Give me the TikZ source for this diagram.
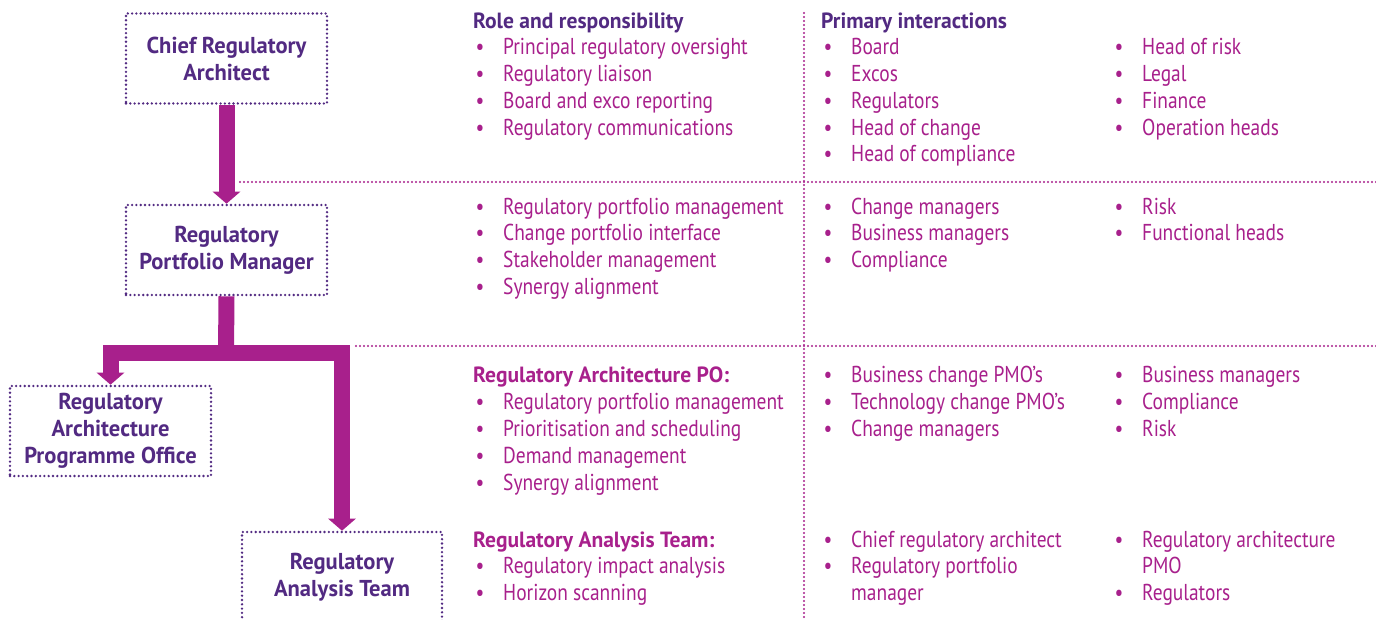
\documentclass[tikz,border=0pt]{standalone}
\usepackage{fontspec}
\setmainfont{PT Sans}[FakeStretch=0.845]
\newfontfamily\boldfam{PT Sans}[FakeStretch=0.98]
\usetikzlibrary{arrows.meta}
\definecolor{dpurple}{RGB}{82,42,130}
\definecolor{mag}{RGB}{168,32,140}
\begin{document}
\begin{tikzpicture}[x=1pt,y=-1pt,
  box/.style={draw=dpurple, line width=2.6pt, dash pattern=on 0pt off 4.3pt, line cap=round,
    minimum width=201pt, minimum height=90pt, inner sep=0pt, align=center, text=dpurple,
    font=\boldfam\bfseries\fontsize{23}{27}\selectfont},
  divider/.style={draw=mag, line width=2.3pt, dash pattern=on 0pt off 4pt, line cap=round},
  fat/.style={draw=mag, line width=16pt, line join=miter},
  fatarrow/.style={fat, -{Triangle[width=27pt,length=12pt]}},
  head/.style={anchor=base west, text=dpurple, inner sep=0pt, font=\boldfam\bfseries\fontsize{22}{26}\selectfont},
  headm/.style={head, text=mag},
  itm/.style={anchor=base west, text=mag, inner sep=0pt, font=\fontsize{23}{26}\selectfont},
  bul/.style={anchor=base, text=mag, inner sep=0pt, font=\fontsize{23}{26}\selectfont}]
\useasboundingbox (0,0) rectangle (1376,620);
\clip (0,0) rectangle (1376,620);
\fill[white] (0,0) rectangle (1376,620);

% boxes
\node[box] (cra) at (226.5,58.5) {Chief Regulatory\\Architect};
\node[box] (rpm) at (226.5,250) {Regulatory\\Portfolio Manager};
\node[box] (rapo) at (110.5,431) {Regulatory\\Architecture\\Programme Office};
\node[box, minimum width=200pt, minimum height=91pt] (rat) at (342,577.5) {Regulatory\\Analysis Team};

% dividers
\draw[divider] (804,13) -- (804,620);
\draw[divider] (240,182) -- (1376,182);
\draw[divider] (356,346) -- (1376,346);

% arrows
\coordinate (j) at (226,353);
\draw[fatarrow] (cra.south) -- (rpm.north);
\draw[fat] (rpm.south) -- (j);
\draw[fatarrow] (j) -| (rapo.north);
\draw[fatarrow] (j) -| (rat.north);

% headers
\node[head] (h1) at (473,29) {Role and responsibility};
\node[head] (h2) at (821,29) {Primary interactions};
\node[headm] (h3) at (473,382) {Regulatory Architecture PO:};
\node[headm] (h4) at (473,547) {Regulatory Analysis Team:};

% bulleted items
\foreach \x/\y/\t [count=\i] in {
  503/55/Principal regulatory oversight,
  503/82/Regulatory liaison,
  503/109/Board and exco reporting,
  503/136/Regulatory communications,
  851/55/Board,
  851/82/Excos,
  851/109/Regulators,
  851/136/Head of change,
  851/162/Head of compliance,
  1142/55/Head of risk,
  1142/82/Legal,
  1142/109/Finance,
  1142/136/Operation heads,
  503/215/Regulatory portfolio management,
  503/241/Change portfolio interface,
  503/268/Stakeholder management,
  503/295/Synergy alignment,
  851/215/Change managers,
  851/241/Business managers,
  851/268/Compliance,
  1142/215/Risk,
  1142/241/Functional heads,
  503/409/Regulatory portfolio management,
  503/436/Prioritisation and scheduling,
  503/463/Demand management,
  503/490/Synergy alignment,
  851/382/Business change PMO’s,
  851/409/Technology change PMO’s,
  851/436/Change managers,
  1142/382/Business managers,
  1142/409/Compliance,
  1142/436/Risk,
  503/573/Regulatory impact analysis,
  503/600/Horizon scanning,
  851/547/Chief regulatory architect,
  851/573/Regulatory portfolio,
  1142/547/Regulatory architecture,
  1142/600/Regulators}
{
  \node[itm] (t\i) at (\x,\y) {\t};
  \node[bul] (b\i) at (\x-23,\y) {•};
}
\node[itm] (c1) at (851,600) {manager};
\node[itm] (c2) at (1142,573) {PMO};
\end{tikzpicture}
\end{document}
